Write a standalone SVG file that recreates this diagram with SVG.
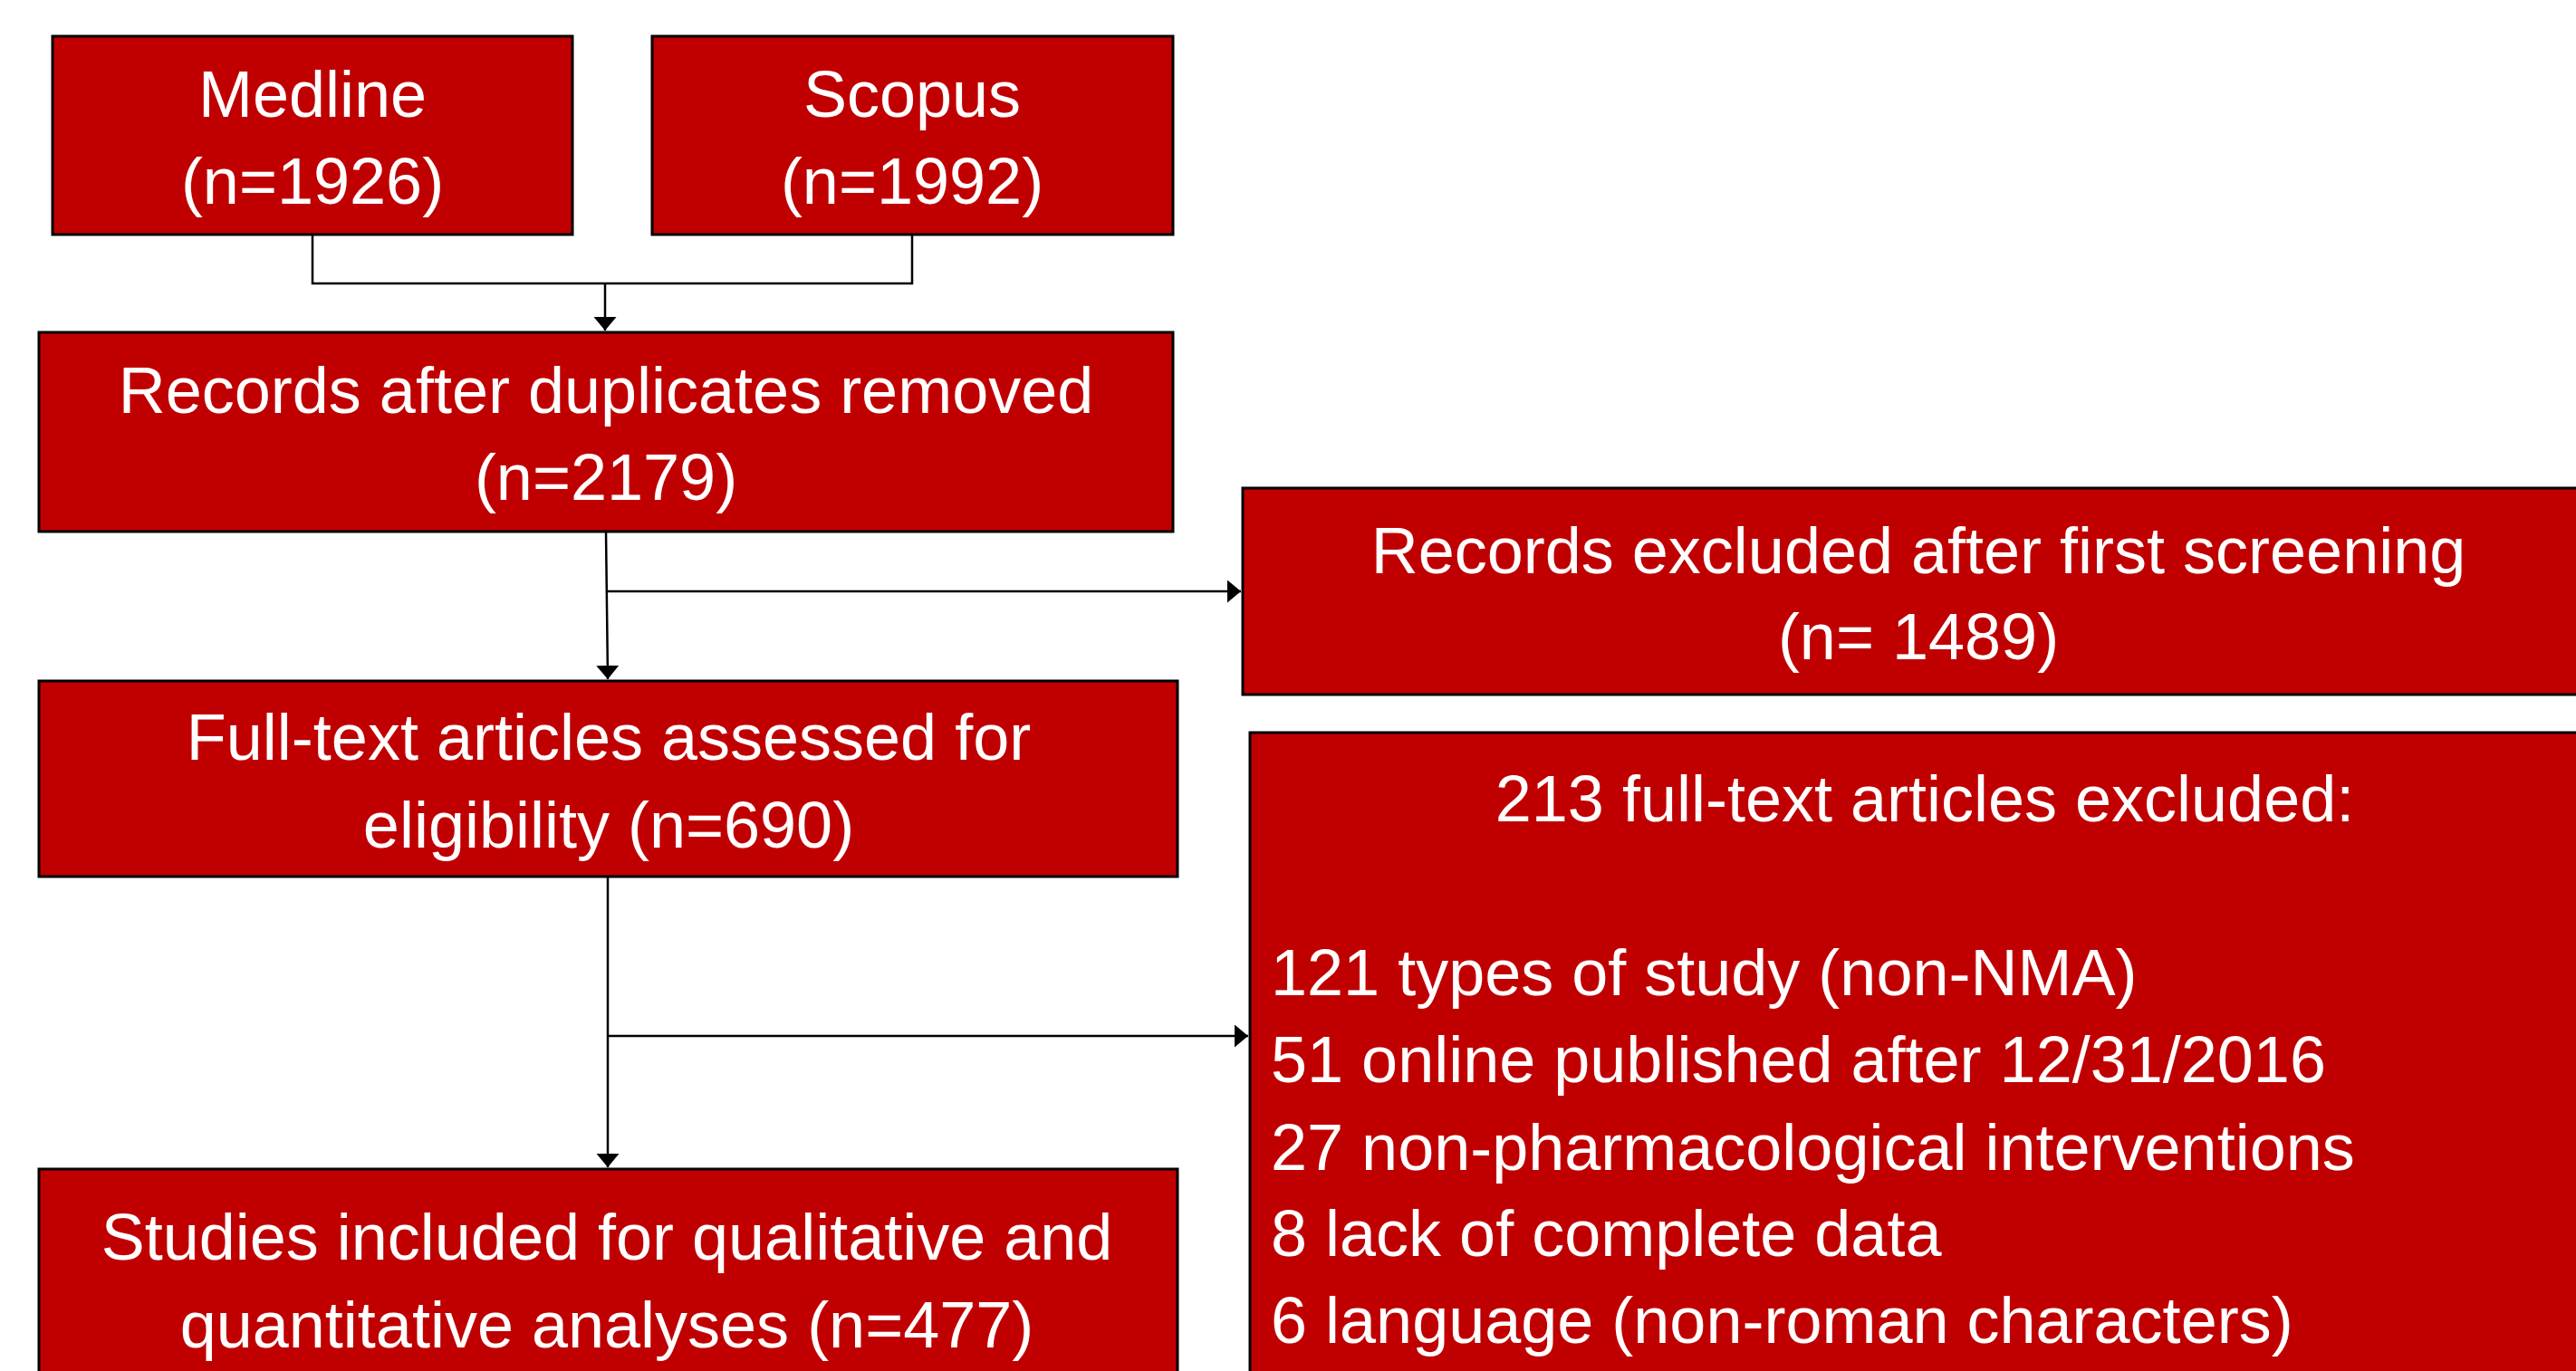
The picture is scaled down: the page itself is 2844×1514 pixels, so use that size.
<svg xmlns="http://www.w3.org/2000/svg" width="2844" height="1514" viewBox="0 0 2844 1514">
<style>
.box{fill:#C00000;stroke:#000;stroke-width:3}
.t{font-family:"Liberation Sans",Arial,sans-serif;font-size:72px;fill:#fff}
.c{text-anchor:middle}
.ln{fill:none;stroke:#000;stroke-width:2.5}
</style>
<defs>
<marker id="ah" markerUnits="userSpaceOnUse" markerWidth="16" markerHeight="26" refX="15" refY="12.5" orient="auto">
<path d="M0,0 L15,12.5 L0,25 Z" fill="#000"/>
</marker>
</defs>
<rect width="2844" height="1514" fill="#fff"/>
<g id="connectors">
<path class="ln" d="M345,259 V313 H1007 V259"/>
<path class="ln" d="M668,313 V365" marker-end="url(#ah)"/>
<path class="ln" d="M669,587 L671,750" marker-end="url(#ah)"/>
<path class="ln" d="M669,653 H1370" marker-end="url(#ah)"/>
<path class="ln" d="M671,968 V1289" marker-end="url(#ah)"/>
<path class="ln" d="M671,1144 H1378" marker-end="url(#ah)"/>
</g>
<g id="medline">
<rect class="box" x="58" y="40" width="574" height="219"/>
<text class="t c" x="345" y="129">Medline</text>
<text class="t c" x="345" y="225">(n=1926)</text>
</g>
<g id="scopus">
<rect class="box" x="720" y="40" width="575" height="219"/>
<text class="t c" x="1007" y="129">Scopus</text>
<text class="t c" x="1007" y="225">(n=1992)</text>
</g>
<g id="records">
<rect class="box" x="43" y="367" width="1252" height="220"/>
<text class="t c" x="669" y="456">Records after duplicates removed</text>
<text class="t c" x="669" y="552">(n=2179)</text>
</g>
<g id="fulltext">
<rect class="box" x="43" y="752" width="1257" height="216"/>
<text class="t c" x="672" y="839">Full-text articles assessed for</text>
<text class="t c" x="672" y="936">eligibility (n=690)</text>
</g>
<g id="included">
<rect class="box" x="43" y="1291" width="1257" height="240"/>
<text class="t c" x="670" y="1391">Studies included for qualitative and</text>
<text class="t c" x="670" y="1488">quantitative analyses (n=477)</text>
</g>
<g id="excluded1">
<rect class="box" x="1372" y="539" width="1500" height="228"/>
<text class="t c" x="2118" y="633">Records excluded after first screening</text>
<text class="t c" x="2118" y="728">(n= 1489)</text>
</g>
<g id="excluded2">
<rect class="box" x="1380" y="809" width="1500" height="740"/>
<text class="t c" x="2125" y="907">213 full-text articles excluded:</text>
<text class="t" x="1403" y="1099">121 types of study (non-NMA)</text>
<text class="t" x="1403" y="1195">51 online published after 12/31/2016</text>
<text class="t" x="1403" y="1292">27 non-pharmacological interventions</text>
<text class="t" x="1403" y="1387">8 lack of complete data</text>
<text class="t" x="1403" y="1483">6 language (non-roman characters)</text>
</g>
</svg>
